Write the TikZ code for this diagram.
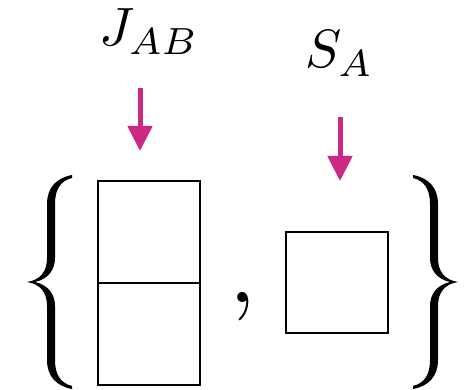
\documentclass[tikz,border=0pt]{standalone}
\usepackage{graphicx}
\usetikzlibrary{arrows.meta}
\definecolor{arrmag}{RGB}{204,41,133}
\tikzset{
  cell/.style={draw=black, line width=2pt},
  magarrow/.style={draw=arrmag, line width=5pt, -{Triangle[width=24pt,length=25pt]}},
  bigmath/.style={inner sep=0pt},
  bracefill/.style={fill=black},
}
\begin{document}
\begin{tikzpicture}[x=1pt,y=-1pt]
\useasboundingbox (0,0) rectangle (464,390);
% braces
\foreach \sx/\dx in {1/0, -1/485} {
  \begin{scope}[xshift=\dx pt, xscale=\sx]
    \fill[bracefill] (72,175) .. controls (56,178) and (47,188) .. (47,204) -- (47,258)
      .. controls (47,272) and (40,280) .. (27,282)
      .. controls (40,284) and (47,292) .. (47,306) -- (47,360)
      .. controls (47,376) and (56,386) .. (72,389)
      -- (72,386) .. controls (60,383) and (55,374) .. (55,360) -- (55,306)
      .. controls (55,294) and (48,285) .. (35,282)
      .. controls (48,279) and (55,270) .. (55,258) -- (55,204)
      .. controls (55,190) and (60,181) .. (72,178) -- cycle;
  \end{scope}
}
% boxes
\draw[cell] (98,181) rectangle (200,283);
\draw[cell] (98,283) rectangle (200,385);
\draw[cell] (286,232) rectangle (388,333);
% comma
\node[bigmath, anchor=base] (cm) at (243,303) {\scalebox{9.5}{$,$}};
% labels
\node[bigmath, anchor=base west] (jab) at (99,46) {\scalebox{5.4}{$J_{AB}$}};
\node[bigmath, anchor=base west] (sa) at (305,68) {\scalebox{5.4}{$S_A$}};
% arrows
\coordinate (a1s) at (140,88);
\coordinate (a1e) at (140,151);
\coordinate (a2s) at (340,117);
\coordinate (a2e) at (340,181);
\draw[magarrow] (a1s) -- (a1e);
\draw[magarrow] (a2s) -- (a2e);
\end{tikzpicture}
\end{document}
